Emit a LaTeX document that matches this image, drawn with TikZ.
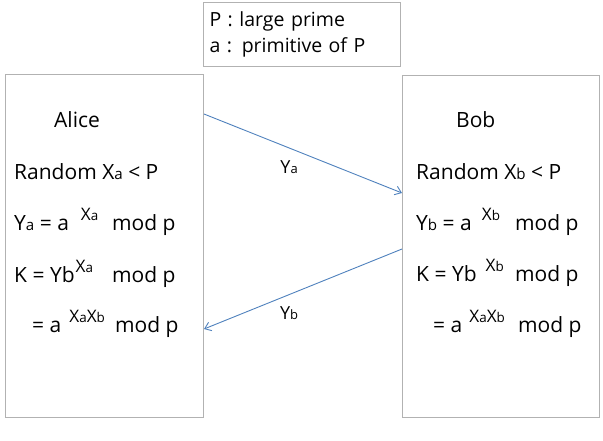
\documentclass[tikz,border=0pt]{standalone}
\usepackage{fontspec}
\setmainfont{Open Sans}
\usetikzlibrary{arrows.meta, positioning}
\definecolor{arrblue}{RGB}{79,129,189}
\definecolor{boxgray}{RGB}{178,178,178}
\newcommand{\xsub}[1]{\scalebox{0.72}{#1}}
\newcommand{\xsupsub}[1]{\scalebox{0.78}{#1}}
\newcommand{\xsup}[1]{\raisebox{10pt}{\scalebox{0.82}{#1}}}

\begin{document}
\begin{tikzpicture}[x=1pt, y=-1pt,
  box/.style={
    rectangle, draw=boxgray, line width=1pt,
    anchor=north west, inner sep=0pt
  },
  txt/.style={anchor=base west, inner sep=0pt, font=\fontsize{21}{25}\selectfont},
  lbl/.style={inner sep=0pt, font=\fontsize{18}{21}\selectfont},
  arr/.style={-{Straight Barb[length=6pt, width=9pt]}, line width=0.9pt, draw=arrblue}
]
  \useasboundingbox (0,0) rectangle (603,440);

  % the three boxes
  \node[box, minimum width=197pt, minimum height=64pt, align=left,
        text width=185pt, inner xsep=6pt,
        font=\fontsize{19.5}{26}\selectfont] (params) at (203,2)
        {P : large prime\\a : primitive of P};
  \node[box, minimum width=198pt, minimum height=343pt] (alice) at (5,74) {};
  \node[box, minimum width=197pt, minimum height=342pt] (bob) at (402,75) {};

  % Alice
  \node[txt] (aname) at (54,127) {Alice};
  \node[txt] (arand) at (14,179) {Random X\xsub{a} < P};
  \node[txt] (apub) at (14,230)
    {\makebox[98pt][l]{Y\xsub{a} = a\hspace{12pt}\xsup{X\xsupsub{a}}}mod p};
  \node[txt] (akey) at (14,282)
    {\makebox[98pt][l]{K = Yb\hspace{1pt}\xsup{X\xsupsub{a}}}mod p};
  \node[txt] (aeq) at (32,332)
    {\makebox[83pt][l]{= a\hspace{8pt}\xsup{X\xsupsub{a}X\xsupsub{b}}}mod p};

  % Bob
  \node[txt] (bname) at (456,127) {Bob};
  \node[txt] (brand) at (416,179) {Random X\xsub{b} < P};
  \node[txt] (bpub) at (416,230)
    {\makebox[99pt][l]{Y\xsub{b} = a\hspace{10pt}\xsup{X\xsupsub{b}}}mod p};
  \node[txt] (bkey) at (416,281)
    {\makebox[99pt][l]{K = Yb\hspace{9pt}\xsup{X\xsupsub{b}}}mod p};
  \node[txt] (beq) at (433,332)
    {\makebox[85pt][l]{= a\hspace{7pt}\xsup{X\xsupsub{a}X\xsupsub{b}}}mod p};

  % exchange
  \draw[arr] ([yshift=-40pt]alice.north east) -- ([yshift=-118pt]bob.north west)
    node[lbl, pos=0.43, below=12pt] (ya) {Y\xsub{a}};
  \draw[arr] ([yshift=-174pt]bob.north west) -- ([yshift=-255pt]alice.north east)
    node[lbl, pos=0.57, below=12pt] (yb) {Y\xsub{b}};
\end{tikzpicture}
\end{document}
